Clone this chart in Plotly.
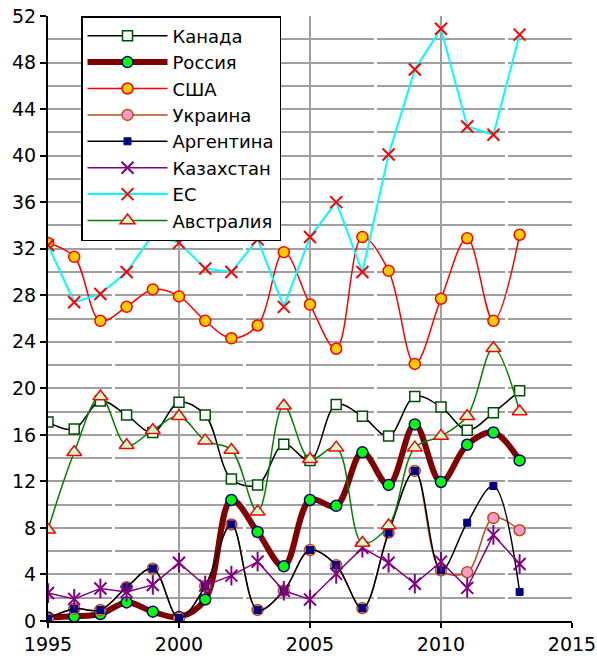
import plotly.graph_objects as go

YEARS = list(range(1995, 2014))
CANADA = [17.1, 16.5, 18.9, 17.7, 16.2, 18.8, 17.7, 12.2, 11.7, 15.2, 13.8, 18.6, 17.6, 15.9, 19.3, 18.4, 16.4, 17.9, 19.8]
RUSSIA = [0.3, 0.4, 0.6, 1.6, 0.8, 0.35, 1.85, 10.4, 7.65, 4.7, 10.4, 9.9, 14.5, 11.7, 16.9, 11.95, 15.15, 16.2, 13.8]
USA = [32.5, 31.3, 25.8, 27.0, 28.5, 27.9, 25.8, 24.3, 25.4, 31.7, 27.2, 23.4, 33.0, 30.1, 22.1, 27.7, 32.9, 25.8, 33.2]
UKRAINE = [0.2, 1.05, 0.95, 2.9, 4.5, 0.25, 3.0, 8.3, 0.95, 2.6, 6.1, 4.8, 1.1, 7.6, 12.9, 4.35, 4.2, 8.85, 7.8]
ARGENTINA = [0.2, 1.05, 0.95, 2.9, 4.5, 0.25, 3.0, 8.3, 0.95, 2.6, 6.1, 4.8, 1.1, 7.6, 12.9, 4.35, 8.45, 11.6, 2.5]
KAZAKHSTAN = [2.4, 1.9, 2.8, 2.5, 3.1, 5.0, 3.05, 3.9, 5.1, 2.6, 1.85, 4.05, 6.3, 5.0, 3.2, 5.1, 2.85, 7.4, 4.9]
EU = [32.3, 27.4, 28.1, 30.0, 33.2, 32.5, 30.3, 30.0, 32.8, 27.0, 33.0, 36.0, 30.0, 40.1, 47.4, 50.9, 42.5, 41.8, 50.4]
AUSTRALIA = [7.85, 14.5, 19.3, 15.1, 16.4, 17.6, 15.5, 14.7, 9.4, 18.5, 13.9, 14.9, 6.7, 8.2, 14.9, 15.9, 17.6, 23.45, 18.0]

X_TICKS = [1995, 2000, 2005, 2010, 2015]
Y_TICKS = list(range(0, 53, 4))

FONT = "DejaVu Sans, Liberation Sans, sans-serif"

series = [
    dict(name="Канада", y=CANADA, line=dict(color="black", width=1.5, shape="spline"),
         marker=dict(symbol="square", size=10, color="white", line=dict(color="#004d00", width=1.5))),
    dict(name="Россия", y=RUSSIA, line=dict(color="#800000", width=6, shape="spline"),
         marker=dict(symbol="circle", size=11, color="#00ff00", line=dict(color="#000080", width=1.5))),
    dict(name="США", y=USA, line=dict(color="#ff0000", width=1.5, shape="spline"),
         marker=dict(symbol="circle", size=11, color="#ffcc00", line=dict(color="#ff0000", width=1.5))),
    dict(name="Украина", y=UKRAINE, line=dict(color="#b4501e", width=1.5, shape="spline"),
         marker=dict(symbol="circle", size=11, color="#ff99cc", line=dict(color="#b4501e", width=1.5))),
    dict(name="Аргентина", y=ARGENTINA, line=dict(color="black", width=1.5, shape="spline"),
         marker=dict(symbol="square", size=7, color="#000080", line=dict(color="#000080", width=1))),
    dict(name="Казахстан", y=KAZAKHSTAN, line=dict(color="#800080", width=1.5, shape="linear"),
         marker=dict(symbol="x-thin-open", size=12, color="#800080", line=dict(color="#800080", width=2)),
         extra=dict(symbol="line-ns-open", size=14, color="#800080", line=dict(color="#800080", width=2))),
    dict(name="ЕС", y=EU, line=dict(color="#00ffff", width=2, shape="linear"),
         marker=dict(symbol="x-thin-open", size=12, color="#ff0000", line=dict(color="#ff0000", width=2))),
    dict(name="Австралия", y=AUSTRALIA, line=dict(color="#008000", width=1.5, shape="spline"),
         marker=dict(symbol="triangle-up", size=13, color="#ccffcc", line=dict(color="#ff0000", width=1.5))),
]

fig = go.Figure()
for s in series:
    fig.add_trace(go.Scatter(x=YEARS, y=s["y"], name=s["name"], mode="lines+markers",
                             line=s["line"], marker=s["marker"]))
    if "extra" in s:
        # vertical stroke completing the six-armed asterisk marker
        fig.add_trace(go.Scatter(x=YEARS, y=s["y"], name=s["name"], mode="markers",
                                 marker=s["extra"], showlegend=False))

# white vertical separators between major x gridlines (as in the original rendering)
mids = [(a + b) / 2 for a, b in zip(X_TICKS[:-1], X_TICKS[1:])]
for m in mids:
    fig.add_shape(type="line", xref="x", yref="y", x0=m, x1=m, y0=Y_TICKS[0], y1=Y_TICKS[-1],
                  line=dict(color="white", width=3), layer="between")

fig.update_layout(
    width=597, height=659,
    margin=dict(l=48, r=25, t=16, b=38, autoexpand=False),
    paper_bgcolor="white", plot_bgcolor="white",
    font=dict(family=FONT, size=19, color="black"),
    showlegend=True,
    legend=dict(x=0.063, y=1.0, xanchor="left", yanchor="top",
                bgcolor="white", bordercolor="black", borderwidth=1.5,
                font=dict(family=FONT, size=18, color="black"),
                itemwidth=80),
    xaxis=dict(range=[X_TICKS[0], X_TICKS[-1]], tickvals=X_TICKS, ticktext=[str(v) for v in X_TICKS],
               showgrid=True, gridcolor="#a0a0a0", gridwidth=2, automargin=False,
               showline=True, linecolor="black", linewidth=2,
               ticks="outside", ticklen=5, tickwidth=1.5, tickcolor="black",
               zeroline=False, tickfont=dict(size=19)),
    yaxis=dict(range=[Y_TICKS[0], Y_TICKS[-1]], tickvals=Y_TICKS,
               showgrid=True, gridcolor="#a0a0a0", gridwidth=2, automargin=False,
               minor=dict(dtick=2, showgrid=True, gridcolor="#a0a0a0", gridwidth=2),
               showline=True, linecolor="black", linewidth=2,
               ticks="outside", ticklen=6, tickwidth=1.5, tickcolor="black",
               zeroline=False, tickfont=dict(size=19)),
)

# remove the default page margin so the figure sits at the window's top-left corner
fig.write_html("out.html", config={"displayModeBar": False},
               post_script="document.body.style.margin='0';document.body.style.overflow='hidden';")
